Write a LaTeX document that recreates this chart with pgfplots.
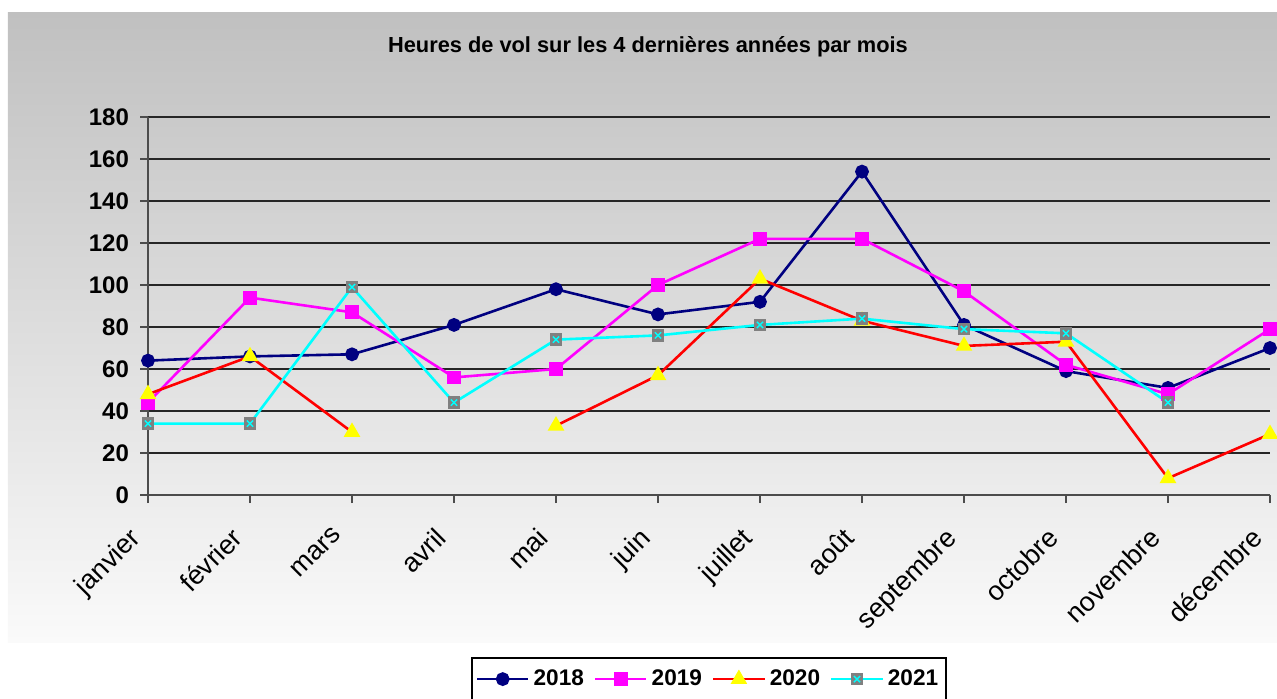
\documentclass[border=0pt]{standalone}
\usepackage{fontspec}
\setmainfont{Liberation Sans}
\usepackage{pgfplots}
\pgfplotsset{compat=1.18}
\definecolor{bgtop}{RGB}{192,192,192}
\definecolor{bgbot}{RGB}{250,250,250}
\definecolor{markgray}{RGB}{128,128,128}
\definecolor{navyc}{RGB}{0,0,128}
\definecolor{magc}{RGB}{255,0,255}
\definecolor{cyanc}{RGB}{0,255,255}
\definecolor{redc}{RGB}{255,0,0}
\definecolor{yelc}{RGB}{255,255,0}
\pgfdeclareplotmark{sqx}{%
  \pgfpathrectangle{\pgfpoint{-\pgfplotmarksize}{-\pgfplotmarksize}}{\pgfpoint{2\pgfplotmarksize}{2\pgfplotmarksize}}%
  \pgfsetfillcolor{markgray}\pgfusepath{fill}%
  \pgfsetstrokecolor{cyanc}\pgfsetlinewidth{0.7pt}%
  \pgfpathmoveto{\pgfpoint{-0.5\pgfplotmarksize}{-0.5\pgfplotmarksize}}%
  \pgfpathlineto{\pgfpoint{0.5\pgfplotmarksize}{0.5\pgfplotmarksize}}%
  \pgfpathmoveto{\pgfpoint{-0.5\pgfplotmarksize}{0.5\pgfplotmarksize}}%
  \pgfpathlineto{\pgfpoint{0.5\pgfplotmarksize}{-0.5\pgfplotmarksize}}%
  \pgfusepath{stroke}%
}
\begin{document}
\begin{tikzpicture}[x=1pt,y=1pt]
\useasboundingbox (-74,-101.5) rectangle (564.5,247.5);
\shade[top color=bgtop, bottom color=bgbot] (-70,-73.5) rectangle (564.5,241.5);
\node[font=\bfseries\fontsize{10.9}{13}\selectfont] at (250,224) {Heures de vol sur les 4 dernières années par mois};
\begin{axis}[
  width=561pt, height=189pt, scale only axis,
  xmin=0, xmax=11, ymin=0, ymax=180,
  axis x line*=bottom, axis y line*=left,
  xtick={0,...,11},
  xticklabels={janvier,février,mars,avril,mai,juin,juillet,août,septembre,octobre,novembre,décembre},
  ytick={0,20,...,180},
  tick align=outside, major tick length=4pt,
  ymajorgrids, grid style={black!85, line width=0.8pt},
  axis line style={black!70, line width=1pt},
  tick style={black!70, line width=0.8pt},
  /pgf/number format/assume math mode=true,
  yticklabel style={font=\bfseries\fontsize{12}{14}\selectfont, xshift=-2pt},
  xticklabel style={xshift=-10pt, yshift=-6.5pt, rotate=45, anchor=north east, font=\fontsize{13.5}{15}\selectfont},
  unbounded coords=jump,
  legend columns=4,
  legend style={at={(axis description cs:0.5,-0.487)}, anchor=center, draw=black, line width=0.8pt, fill=white,
    font=\bfseries\fontsize{11.3}{13}\selectfont, inner xsep=2pt, inner ysep=4pt,
    /tikz/every even column/.append style={column sep=3pt}},
  legend image code/.code={\draw[mark repeat=2,mark phase=2] plot coordinates {(0cm,0cm)(0.45cm,0cm)(0.9cm,0cm)};},
]
\addplot[navyc, line width=1.3pt, mark=*, mark size=2.8pt, mark options={solid, fill=navyc}] coordinates {
(0,64) (1,66) (2,67) (3,81) (4,98) (5,86) (6,92) (7,154) (8,81) (9,59) (10,51) (11,70)};
\addlegendentry{2018}
\addplot[magc, line width=1.3pt, mark=square*, mark size=2.8pt, mark options={solid, fill=magc}] coordinates {
(0,44) (1,94) (2,87) (3,56) (4,60) (5,100) (6,122) (7,122) (8,97) (9,62) (10,48) (11,79)};
\addlegendentry{2019}
\addplot[redc, line width=1.3pt, mark=triangle*, mark size=3.5pt, mark options={solid, fill=yelc, draw=yelc}] coordinates {
(0,48) (1,66) (2,30) (3,nan) (4,33) (5,57) (6,103) (7,83) (8,71) (9,73) (10,8) (11,29)};
\addlegendentry{2020}
\addplot[cyanc, line width=1.3pt, mark=sqx, mark size=3.1pt, mark options={solid}] coordinates {
(0,34) (1,34) (2,99) (3,44) (4,74) (5,76) (6,81) (7,84) (8,79) (9,77) (10,44) (11,nan)};
\addlegendentry{2021}
\end{axis}
\end{tikzpicture}
\end{document}
